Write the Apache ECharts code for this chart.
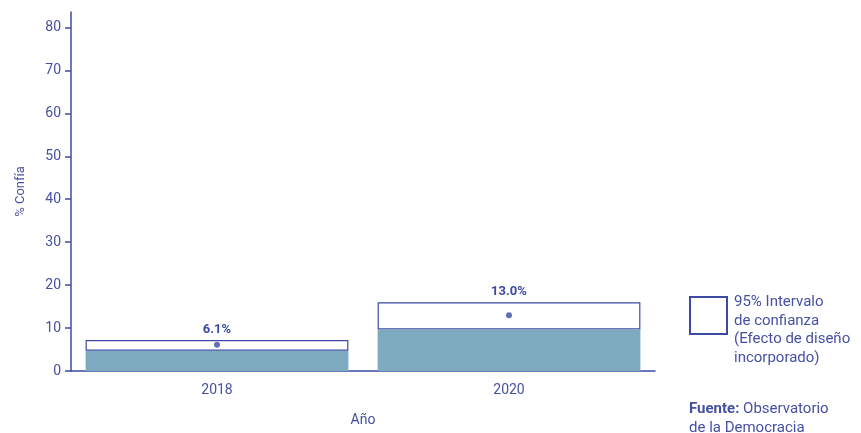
<!DOCTYPE html>
<html>
<head>
<meta charset="utf-8">
<script src="https://cdn.jsdelivr.net/npm/echarts@6/dist/echarts.min.js"></script>
<style>html,body{margin:0;padding:0;background:#fff;}#c{width:861px;height:433px;}</style>
</head>
<body>
<div id="c"></div>
<script>
var categories = ['2018', '2020'];
var estimates = [6.1, 13.0];
var lowerCI = [4.7, 9.7];
var upperCI = [7.2, 16.0];
var yTicks = [0, 10, 20, 30, 40, 50, 60, 70, 80];

var blue = '#3d4aa3';
var textBlue = '#4650a2';
var fill = '#7eaabf';

var chart = echarts.init(document.getElementById('c'));
var ciSpan = upperCI.map(function (u, i) { return +(u - lowerCI[i]).toFixed(2); });

chart.setOption({
  animation: false,
  textStyle: { fontFamily: 'Roboto' },
  grid: { left: 71, right: 206, top: 12, bottom: 62, outerBoundsMode: 'none', containLabel: false },
  legend: {
    show: true,
    data: [{ name: 'ci', icon: 'rect' }],
    left: 689, top: 296,
    padding: 0,
    itemWidth: 37, itemHeight: 37,
    itemGap: 0,
    formatter: function () { return ''; },
    selectedMode: false
  },
  title: [
    {
      text: '95% Intervalo\nde confianza\n(Efecto de diseño\nincorporado)',
      left: 734, top: 293, padding: 0,
      textStyle: { color: textBlue, fontSize: 15, fontWeight: 'normal', lineHeight: 18.5, fontFamily: 'Roboto' }
    },
    {
      text: '{b|Fuente:} Observatorio\nde la Democracia',
      left: 689, top: 400, padding: 0,
      textStyle: {
        color: textBlue, fontSize: 15, fontWeight: 'normal', lineHeight: 18.5, fontFamily: 'Roboto',
        rich: { b: { fontWeight: 'bold', color: textBlue, fontSize: 15, fontFamily: 'Roboto', lineHeight: 18.5 } }
      }
    }
  ],
  xAxis: {
    type: 'category',
    data: categories,
    name: 'Año',
    nameLocation: 'middle',
    nameGap: 42,
    nameTextStyle: { color: textBlue, fontSize: 14 },
    axisLine: { lineStyle: { color: blue, width: 1.5 } },
    axisTick: { alignWithLabel: true, length: 6, lineStyle: { color: blue, width: 1.5 } },
    axisLabel: { color: textBlue, fontSize: 14, margin: 12 }
  },
  yAxis: {
    type: 'value',
    min: 0, max: 83.6,
    name: '% Confía',
    nameLocation: 'middle',
    nameGap: 44,
    nameTextStyle: { color: textBlue, fontSize: 13 },
    splitLine: { show: false },
    axisLine: { show: true, lineStyle: { color: blue, width: 1.5 } },
    axisTick: { show: true, length: 6, customValues: yTicks, lineStyle: { color: blue, width: 1.5 } },
    axisLabel: { color: textBlue, fontSize: 14, margin: 10, customValues: yTicks }
  },
  series: [
    {
      name: 'base',
      type: 'bar',
      stack: 'ci',
      data: lowerCI,
      barCategoryGap: '10%',
      itemStyle: { color: fill },
      silent: true
    },
    {
      name: 'ci',
      type: 'bar',
      stack: 'ci',
      data: ciSpan,
      barCategoryGap: '10%',
      itemStyle: { color: '#ffffff', borderColor: blue, borderWidth: 1.2 },
      label: {
        show: true,
        position: 'top',
        distance: 4,
        color: blue,
        fontWeight: 'bold',
        fontSize: 13,
        formatter: function (p) { return estimates[p.dataIndex].toFixed(1) + '%'; }
      },
      silent: true
    },
    {
      name: 'est',
      type: 'scatter',
      data: estimates,
      symbol: 'circle',
      symbolSize: 6,
      itemStyle: { color: blue },
      z: 5,
      silent: true
    }
  ]
});
</script>
</body>
</html>
